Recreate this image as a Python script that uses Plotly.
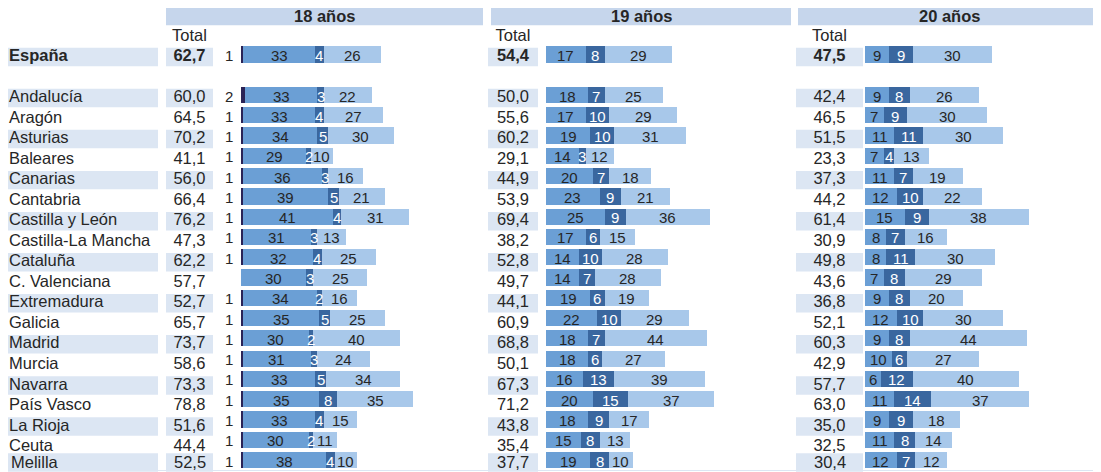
import plotly.graph_objects as go

# ---------------- data ----------------
regions = ["España", "Andalucía", "Aragón", "Asturias", "Baleares", "Canarias", "Cantabria",
           "Castilla y León", "Castilla-La Mancha", "Cataluña", "C. Valenciana", "Extremadura",
           "Galicia", "Madrid", "Murcia", "Navarra", "País Vasco", "La Rioja", "Ceuta", "Melilla"]

panel_titles = ["18 años", "19 años", "20 años"]

total_18 = [62.7, 60.0, 64.5, 70.2, 41.1, 56.0, 66.4, 76.2, 47.3, 62.2, 57.7, 52.7, 65.7, 73.7, 58.6, 73.3, 78.8, 51.6, 44.4, 52.5]
thin_18 = [1, 2, 1, 1, 1, 1, 1, 1, 1, 1, 0, 1, 1, 1, 1, 1, 1, 1, 1, 1]
mid_18 = [33, 33, 33, 34, 29, 36, 39, 41, 31, 32, 30, 34, 35, 30, 31, 33, 35, 33, 30, 38]
dark_18 = [4, 3, 4, 5, 2, 3, 5, 4, 3, 4, 3, 2, 5, 2, 3, 5, 8, 4, 2, 4]
light_18 = [26, 22, 27, 30, 10, 16, 21, 31, 13, 25, 25, 16, 25, 40, 24, 34, 35, 15, 11, 10]

total_19 = [54.4, 50.0, 55.6, 60.2, 29.1, 44.9, 53.9, 69.4, 38.2, 52.8, 49.7, 44.1, 60.9, 68.8, 50.1, 67.3, 71.2, 43.8, 35.4, 37.7]
mid_19 = [17, 18, 17, 19, 14, 20, 23, 25, 17, 14, 14, 19, 22, 18, 18, 16, 20, 18, 15, 19]
dark_19 = [8, 7, 10, 10, 3, 7, 9, 9, 6, 10, 7, 6, 10, 7, 6, 13, 15, 9, 8, 8]
light_19 = [29, 25, 29, 31, 12, 18, 21, 36, 15, 28, 28, 19, 29, 44, 27, 39, 37, 17, 13, 10]

total_20 = [47.5, 42.4, 46.5, 51.5, 23.3, 37.3, 44.2, 61.4, 30.9, 49.8, 43.6, 36.8, 52.1, 60.3, 42.9, 57.7, 63.0, 35.0, 32.5, 30.4]
mid_20 = [9, 9, 7, 11, 7, 11, 12, 15, 8, 8, 7, 9, 12, 9, 10, 6, 11, 9, 11, 12]
dark_20 = [9, 8, 9, 11, 4, 7, 10, 9, 7, 11, 8, 8, 10, 8, 6, 12, 14, 9, 8, 7]
light_20 = [30, 26, 30, 30, 13, 19, 22, 38, 16, 30, 29, 20, 30, 44, 27, 40, 37, 18, 14, 12]

# ---------------- layout constants ----------------
PAGE_W, PAGE_H = 1101, 472
OFF = 8                                # default page body margin
W, H = PAGE_W - OFF, PAGE_H - OFF      # figure size
BAR_Y0, BAR_PITCH = 95.0, 20.28        # page-pixel centre of first region bar, row pitch
TXT_Y0, TXT_PITCH = 98.0, 20.53        # page-pixel centre of first region text row, row pitch
FONT = "Liberation Sans, Arial, sans-serif"
TXT_SIZE = 16.5
BAR_TXT_SIZE = 15

C_THIN = "#2a2356"
C_MID = "#6b9fd5"
C_DARK = "#3a679f"
C_LIGHT = "#a8c8ea"
BAND = "#dce6f3"
HEADER = "#c6d6ec"
TEXT = "#262626"

NAME_BOX = (8, 158)
panels = [
    dict(bar_x0=241, ppu=2.18, span=240, box=(166, 213), header=(166, 483)),
    dict(bar_x0=546, ppu=2.34, span=240, box=(488, 538), header=(491, 791)),
    dict(bar_x0=865, ppu=2.65, span=232, box=(796, 863), header=(798, 1100)),
]


def fx(px):
    """page pixel x -> paper fraction"""
    return (px - OFF) / W


def fy(py):
    """page pixel y -> paper fraction"""
    return 1 - (py - OFF) / H


# row positions (bar rows and table-text rows)
bar_rows = [-2] + list(range(0, len(regions) - 1))
txt_rows = [-2] + list(range(0, len(regions) - 2)) + [len(regions) - 3 + 0.75]
shaded = [(r % 2 == 0) for r in bar_rows]

series = [
    (total_18, thin_18, mid_18, dark_18, light_18),
    (total_19, None, mid_19, dark_19, light_19),
    (total_20, None, mid_20, dark_20, light_20),
]

fig = go.Figure()
axis_names = ["x", "x2", "x3"]

for p, (tot, thin, mid, dark, light) in enumerate(series):
    xa = axis_names[p]
    segs = []
    if thin is not None:
        segs.append((thin, C_THIN, False, TEXT))
    segs += [(mid, C_MID, True, TEXT), (dark, C_DARK, True, "white"), (light, C_LIGHT, True, TEXT)]
    base = [0] * len(regions)
    for vals, col, show, tcol in segs:
        fig.add_trace(go.Bar(
            x=vals, y=bar_rows, orientation="h", xaxis=xa, yaxis="y",
            marker=dict(color=col, line=dict(width=0)), width=0.8,
            hoverinfo="skip", showlegend=False,
        ))
        if show:
            for j, (v, r) in enumerate(zip(vals, bar_rows)):
                fig.add_annotation(x=base[j] + v / 2, y=r, xref=xa, yref="y", text=str(v),
                                   showarrow=False, xanchor="center", yshift=-1,
                                   font=dict(family=FONT, size=BAR_TXT_SIZE, color=tcol))
        base = [b + v for b, v in zip(base, vals)]
    if thin is not None:
        for v, r in zip(thin, bar_rows):
            if v > 0:
                fig.add_annotation(x=0, y=r, xref=xa, yref="y", text=str(v), showarrow=False,
                                   xanchor="right", xshift=-6, yshift=-1,
                                   font=dict(family=FONT, size=BAR_TXT_SIZE, color=TEXT))


def fmt(v):
    return f"{v:.1f}".replace(".", ",")


last = len(regions) - 1


# ---------- table text (scatter text on a pixel-like overlay axis) ----------
def add_text(xs, ys, texts, pos):
    fig.add_trace(go.Scatter(x=xs, y=ys, text=texts, mode="text", textposition=pos,
                             textfont=dict(family=FONT, size=TXT_SIZE, color=TEXT),
                             xaxis="x4", yaxis="y2", hoverinfo="skip", showlegend=False,
                             cliponaxis=False))


def add_ann(x, y, text, anchor):
    fig.add_annotation(x=x, y=y, xref="x4", yref="y2", text=text, showarrow=False,
                       xanchor=anchor, font=dict(family=FONT, size=TXT_SIZE, color=TEXT))


def lab(i, s):
    return f"<b>{s}</b>" if i == 0 else s


# region names
add_text([NAME_BOX[0] + 1] * last, txt_rows[:last], [lab(i, regions[i]) for i in range(last)], "middle right")
add_ann(NAME_BOX[0] + 1, txt_rows[last], regions[last], "left")

for p, (tot, *_rest) in enumerate(series):
    cx = (panels[p]["box"][0] + panels[p]["box"][1]) / 2
    add_text([cx] * last, txt_rows[:last], [lab(i, fmt(tot[i])) for i in range(last)], "middle center")
    add_ann(cx, txt_rows[last], fmt(tot[last]), "center")
    add_text([cx], [-3], ["Total"], "middle center")
    hx = (panels[p]["header"][0] + panels[p]["header"][1]) / 2
    add_ann(hx, -4, f"<b>{panel_titles[p]}</b>", "center")


# ---------- background shapes ----------
def band(x0, x1, k, half=0.45, color=BAND, layer="below"):
    fig.add_shape(type="rect", xref="paper", yref="y2", x0=fx(x0), x1=fx(x1),
                  y0=k - half, y1=k + half, fillcolor=color, line=dict(width=0), layer=layer)


for i, k in enumerate(txt_rows):
    if shaded[i]:
        layer = "above" if i == last else "below"
        band(*NAME_BOX, k, layer=layer)
        for pn in panels:
            band(*pn["box"], k, layer=layer)
for pn in panels:
    band(*pn["header"], -4, half=0.46, color=HEADER)

fig.add_shape(type="line", xref="paper", yref="paper", x0=0, x1=1,
              y0=fy(470.5), y1=fy(470.5), line=dict(color=BAND, width=1), layer="below")

# ---------- axes ----------
layout_axes = {}
for p, pn in enumerate(panels):
    key = "xaxis" if p == 0 else f"xaxis{p+1}"
    layout_axes[key] = dict(domain=[fx(pn["bar_x0"]), min(1, fx(pn["bar_x0"] + pn["span"]))],
                            range=[0, pn["span"] / pn["ppu"]], visible=False, fixedrange=True,
                            anchor="y")
layout_axes["xaxis4"] = dict(domain=[0, 1], range=[OFF, PAGE_W], visible=False, anchor="y2")
layout_axes["yaxis"] = dict(domain=[0, 1],
                            range=[(PAGE_H - BAR_Y0) / BAR_PITCH, (OFF - BAR_Y0) / BAR_PITCH],
                            visible=False, anchor="x")
layout_axes["yaxis2"] = dict(domain=[0, 1],
                             range=[(PAGE_H - TXT_Y0) / TXT_PITCH, (OFF - TXT_Y0) / TXT_PITCH],
                             visible=False, anchor="x4")

fig.update_layout(
    width=W, height=H, margin=dict(l=0, r=0, t=0, b=0),
    paper_bgcolor="white", plot_bgcolor="rgba(0,0,0,0)",
    barmode="stack", bargap=0,
    font=dict(family=FONT, color=TEXT),
    **layout_axes,
)

fig.write_html("out.html")
